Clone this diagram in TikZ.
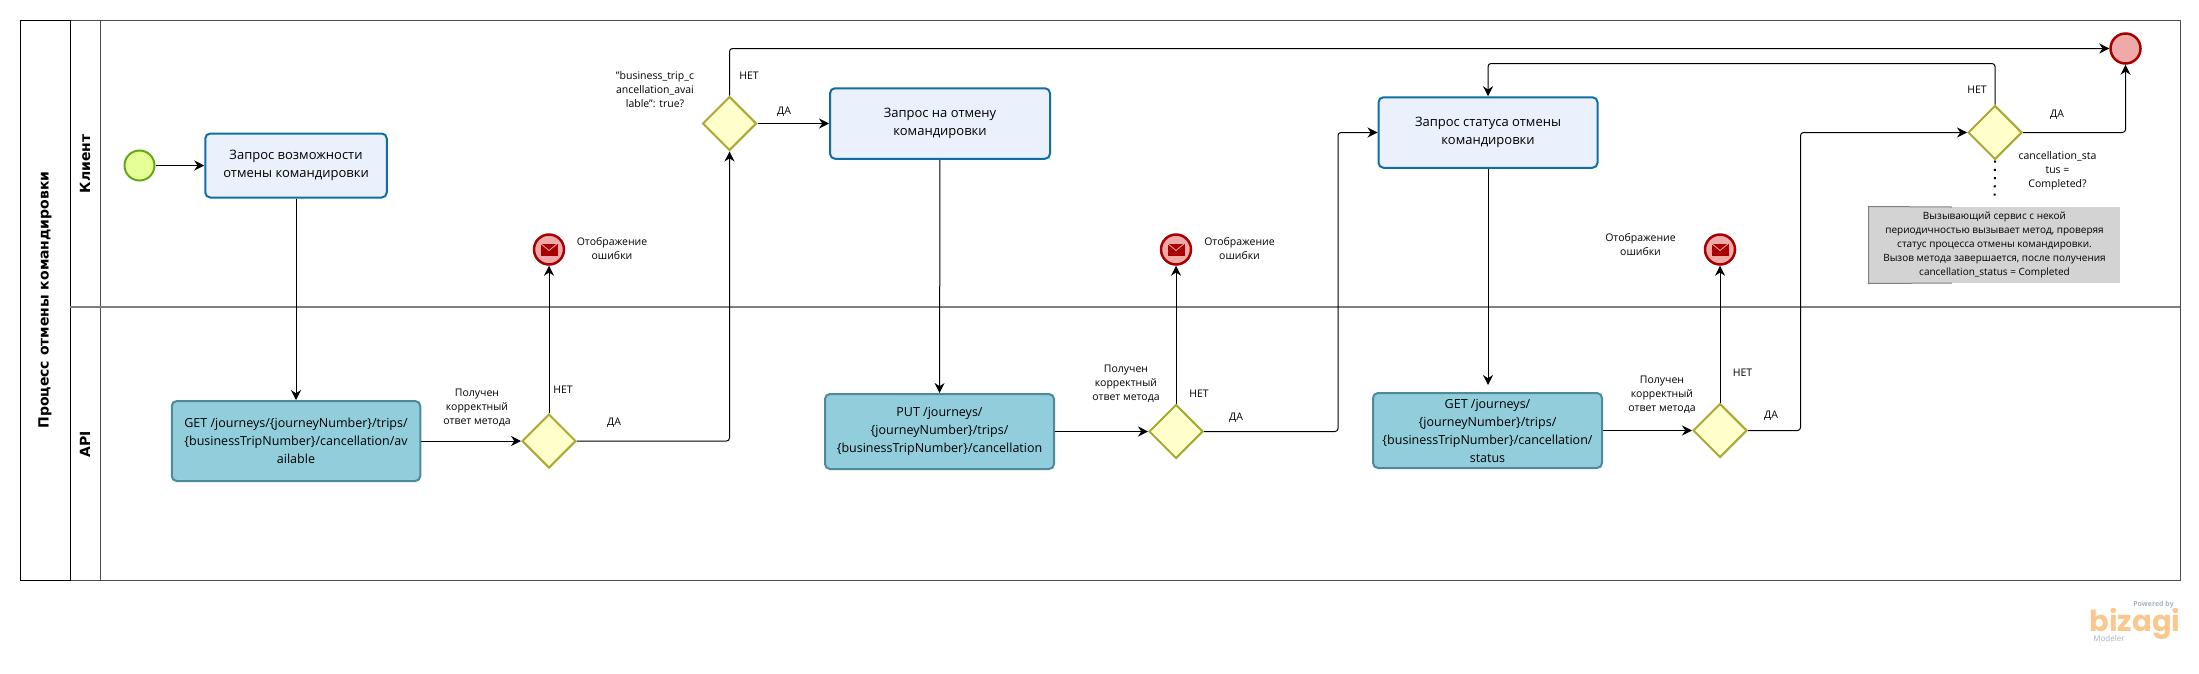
\documentclass[tikz,border=0pt]{standalone}
\usepackage{xcolor}
\usepackage{fontspec}
\usepackage{tikz}
\usetikzlibrary{arrows.meta, positioning, shapes.geometric}
\setmainfont{Open Sans}
\newfontfamily\headfont{DejaVu Sans}
\newfontfamily\logofont{Poppins}
\definecolor{taskfill}{HTML}{EBF0FD}
\definecolor{taskline}{HTML}{0F6FA3}
\definecolor{apifill}{HTML}{92CDDC}
\definecolor{apiline}{HTML}{4D8A9C}
\definecolor{gatefill}{HTML}{FFFFCC}
\definecolor{gateline}{HTML}{A9A934}
\definecolor{startfill}{HTML}{E6FF97}
\definecolor{startline}{HTML}{62A716}
\definecolor{endfill}{HTML}{EFA9A9}
\definecolor{endline}{HTML}{A80000}
\definecolor{notefill}{HTML}{D3D3D3}
\definecolor{logoorange}{HTML}{FBC78F}
\definecolor{logogray}{HTML}{A9B3BC}

\begin{document}
\begin{tikzpicture}[x=1pt, y=-1pt, >={Stealth[length=10pt,width=10pt]}, line width=1pt,
  taskbox/.style={draw=taskline, fill=taskfill, line width=2pt, rounded corners=5pt, inner sep=0pt, align=center, font=\fontsize{13}{18}\selectfont},
  apibox/.style={draw=apiline, fill=apifill, line width=2pt, rounded corners=5pt, inner sep=0pt, align=center, font=\fontsize{12.5}{18}\selectfont},
  gate/.style={diamond, draw=gateline, fill=gatefill, line width=2pt, inner sep=0pt, minimum width=54pt, minimum height=54pt, shape aspect=1},
  errev/.style={circle, draw=endline, fill=endfill, line width=2.5pt, inner sep=0pt, minimum size=30pt},
  lbl/.style={inner sep=0pt, align=center, font=\fontsize{10.5}{14}\selectfont},
  head/.style={inner sep=0pt, rotate=90, font=\headfont\bfseries\fontsize{14}{16}\selectfont},
  flow/.style={->, rounded corners=3pt}]
  \useasboundingbox (0,0) rectangle (2199,673);

  % Дорожки
  \draw[black!70] (20.5,20.5) rectangle (2180,580.5);
  \draw (20.5,20.5) rectangle (70,580.5);
  \draw[black!70] (100,20.5) -- (100,580.5);
  \draw[black!50, line width=2pt] (70,307) -- (2180,307);
  \node[head] (pooltitle) at (45,300) {Процесс отмены командировки};
  \node[head] (laneclient) at (85,164) {Клиент};
  \node[head] (laneapi) at (85,444) {API};

  % Первый запрос
  \node[circle, draw=startline, fill=startfill, line width=2pt, inner sep=0pt, minimum size=30pt] (startev) at (139.5,165.5) {};
  \node[taskbox, minimum width=181.5pt, minimum height=64pt] (task1) at (296,165.5) {Запрос возможности\\отмены командировки};
  \node[apibox, minimum width=248.5pt, minimum height=80pt] (api1) at (296,441) {GET /journeys/\{journeyNumber\}/trips/\\\{businessTripNumber\}/cancellation/av\\ailable};
  \node[gate] (gate1) at (549,441) {};
  \node[errev] (err1) at (549,249.5) {};
  \node[gate] (gate2) at (729.5,123.5) {};

  % Запрос на отмену
  \node[taskbox, minimum width=220pt, minimum height=70.5pt] (task2) at (940,123.5) {Запрос на отмену\\командировки};
  \node[apibox, minimum width=229pt, minimum height=75pt] (api2) at (939.5,431.5) {PUT /journeys/\\\{journeyNumber\}/trips/\\\{businessTripNumber\}/cancellation};
  \node[gate] (gate3) at (1176,431.5) {};
  \node[errev] (err2) at (1176,249.5) {};

  % Запрос статуса
  \node[taskbox, minimum width=219pt, minimum height=70.5pt] (task3) at (1488,132.5) {Запрос статуса отмены\\командировки};
  \node[apibox, minimum width=229pt, minimum height=75pt] (api3) at (1487.5,430.5) {GET /journeys/\\\{journeyNumber\}/trips/\\\{businessTripNumber\}/cancellation/\\status};
  \node[gate] (gate4) at (1720,430.5) {};
  \node[errev] (err3) at (1720,249.5) {};
  \node[gate] (gate5) at (1995,132.5) {};
  \node[errev] (endev) at (2125.5,48.5) {};

  % Примечание
  \node[fill=notefill, inner sep=0pt, minimum width=251pt, minimum height=76pt, align=center, font=\fontsize{10}{14.2}\selectfont] (note) at (1994.5,245) {Вызывающий сервис с некой\\периодичностью вызывает метод, проверяя\\статус процесса отмены командировки.\\Вызов метода завершается, после получения\\cancellation\_status = Completed};
  \coordinate (notetop) at (1952,207);
  \coordinate (notebot) at (1952,283);
  \draw[black!50] (notetop) -- (note.north west) -- (note.south west) -- (notebot);

  % Конверты
  \foreach \e in {err1, err2, err3} {
    \fill[endline] ([shift={(-8.5,-6)}]\e.center) rectangle ([shift={(8.5,6)}]\e.center);
    \draw[endfill, line width=0.8pt] ([shift={(-8.5,-6)}]\e.center) -- ([shift={(0,1)}]\e.center) -- ([shift={(8.5,-6)}]\e.center);
  }

  % Соединения
  \coordinate (bend3) at (1338,300);
  \coordinate (bend4) at (1800.5,300);
  \coordinate (backtop) at (1740,63.5);
  \coordinate (api3tip) at (1488,385);
  \draw[flow] (startev) -- (task1);
  \draw[flow] (task1) -- (api1);
  \draw[flow] (api1) -- (gate1);
  \draw[flow] (gate1) -- (err1);
  \draw[flow] (gate1.east) -| (gate2.south);
  \draw[flow] (gate2) -- (task2);
  \draw[flow] (gate2.north) |- (endev.west);
  \draw[flow] (task2) -- (api2);
  \draw[flow] (api2) -- (gate3);
  \draw[flow] (gate3) -- (err2);
  \draw[flow] (gate3.east) -| (bend3) |- (task3.west);
  \draw[flow] (task3.south) -- (api3tip);
  \draw[flow] (api3) -- (gate4);
  \draw[flow] (gate4) -- (err3);
  \draw[flow] (gate4.east) -| (bend4) |- (gate5.west);
  \draw[flow] (gate5.north) |- (backtop) -| (task3.north);
  \draw[flow] (gate5.east) -| (endev.south);
  \draw[line width=2pt, dash pattern=on 2pt off 6.3pt, shorten >=6pt] (gate5.south) -- (note.north);

  % Подписи
  \node[lbl] (errtext1) at (612,249) {Отображение\\ошибки};
  \node[lbl] (errtext2) at (1239.5,249) {Отображение\\ошибки};
  \node[lbl] (errtext3) at (1640.5,245) {Отображение\\ошибки};
  \node[lbl] (check1) at (477,408) {Получен\\корректный\\ответ метода};
  \node[lbl] (check2) at (1126,383.5) {Получен\\корректный\\ответ метода};
  \node[lbl] (check3) at (1662,395) {Получен\\корректный\\ответ метода};
  \node[lbl] (avail) at (655,90) {"business\_trip\_c\\ancellation\_avai\\lable": true?};
  \node[lbl] (status) at (2057.5,171) {cancellation\_sta\\tus =\\Completed?};
  \node[lbl] (no1) at (563,390) {НЕТ};
  \node[lbl] (yes1) at (614,422.5) {ДА};
  \node[lbl] (no2) at (749,76) {НЕТ};
  \node[lbl] (yes2) at (784,112) {ДА};
  \node[lbl] (no3) at (1199,394) {НЕТ};
  \node[lbl] (yes3) at (1236,418) {ДА};
  \node[lbl] (no4) at (1742.5,373) {НЕТ};
  \node[lbl] (yes4) at (1771,415.5) {ДА};
  \node[lbl] (no5) at (1977,90) {НЕТ};
  \node[lbl] (yes5) at (2057,115) {ДА};

  % Логотип
  \node[inner sep=0pt, text=logoorange, font=\logofont\bfseries\fontsize{29}{30}\selectfont] (bizagi) at (2135,624) {bizagi};
  \node[inner sep=0pt, text=logogray, font=\fontsize{7}{8}\selectfont\bfseries] (powered) at (2153.5,605) {Powered by};
  \node[inner sep=0pt, text=logogray, font=\fontsize{8}{9}\selectfont] (modeler) at (2109,638) {Modeler};
\end{tikzpicture}
\end{document}
